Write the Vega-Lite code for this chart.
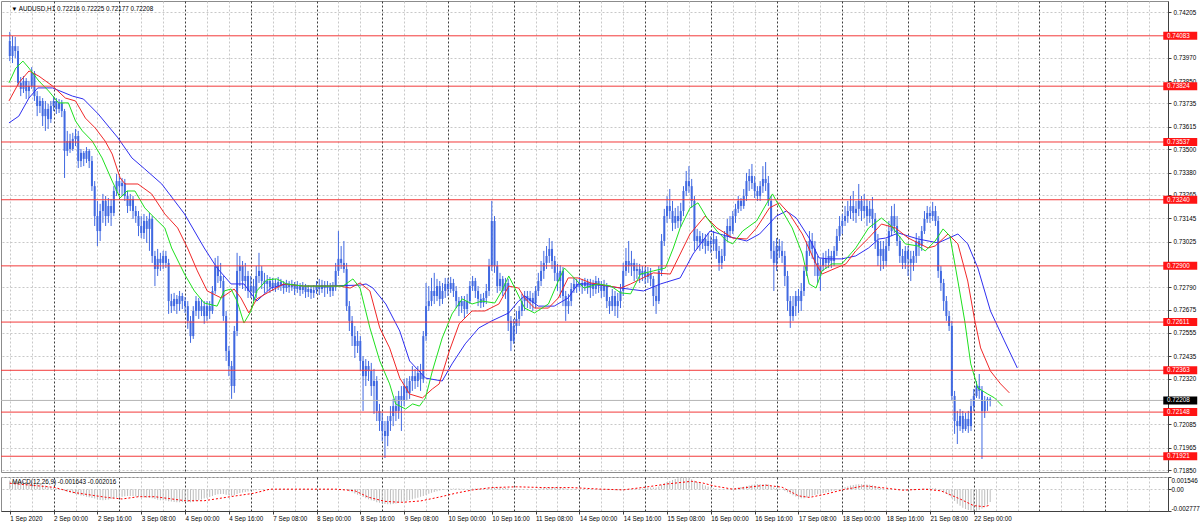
{
"$schema": "https://vega.github.io/schema/vega-lite/v6.json",
"padding": 0,
"background": "#ffffff",
"spacing": 2,
"config": {
  "view": {"stroke": "#8c8c8c", "strokeWidth": 1},
  "font": "Liberation Sans",
  "axis": {"labelFont": "Liberation Sans", "labelFontSize": 6.3, "labelColor": "#000000", "domainColor": "#404040", "tickColor": "#404040", "gridColor": "#c8c8c8", "gridDash": [2, 2], "gridWidth": 1, "labelOverlap": false, "tickCount": 500}
},
"datasets": {
"bars": [
{"i":0,"o":0.74056,"h":0.74103,"l":0.73953,"c":0.73979,"m":0.0011},
{"i":1,"o":0.73979,"h":0.74082,"l":0.73943,"c":0.74030,"m":0.00108},
{"i":2,"o":0.74030,"h":0.74077,"l":0.73969,"c":0.74005,"m":0.00105},
{"i":3,"o":0.74005,"h":0.74030,"l":0.73825,"c":0.73841,"m":0.00103},
{"i":4,"o":0.73841,"h":0.73871,"l":0.73773,"c":0.73810,"m":0.001},
{"i":5,"o":0.73810,"h":0.73876,"l":0.73789,"c":0.73851,"m":0.00096},
{"i":6,"o":0.73851,"h":0.73866,"l":0.73758,"c":0.73799,"m":0.00092},
{"i":7,"o":0.73799,"h":0.73851,"l":0.73763,"c":0.73825,"m":0.00088},
{"i":8,"o":0.73825,"h":0.73922,"l":0.73810,"c":0.73892,"m":0.00082},
{"i":9,"o":0.73892,"h":0.73902,"l":0.73748,"c":0.73773,"m":0.00076},
{"i":10,"o":0.73773,"h":0.73799,"l":0.73670,"c":0.73722,"m":0.0007},
{"i":11,"o":0.73722,"h":0.73773,"l":0.73686,"c":0.73748,"m":0.00062},
{"i":12,"o":0.73748,"h":0.73763,"l":0.73619,"c":0.73670,"m":0.00054},
{"i":13,"o":0.73670,"h":0.73748,"l":0.73594,"c":0.73707,"m":0.00045},
{"i":14,"o":0.73707,"h":0.73733,"l":0.73604,"c":0.73655,"m":0.00035},
{"i":15,"o":0.73655,"h":0.73748,"l":0.73635,"c":0.73722,"m":0.00025},
{"i":16,"o":0.73722,"h":0.73773,"l":0.73696,"c":0.73748,"m":0.00016},
{"i":17,"o":0.73748,"h":0.73763,"l":0.73681,"c":0.73707,"m":0.00008},
{"i":18,"o":0.73707,"h":0.73758,"l":0.73686,"c":0.73738,"m":0},
{"i":19,"o":0.73738,"h":0.73753,"l":0.73665,"c":0.73696,"m":-0.00008},
{"i":20,"o":0.73696,"h":0.73707,"l":0.73352,"c":0.73491,"m":-0.0002},
{"i":21,"o":0.73491,"h":0.73594,"l":0.73465,"c":0.73542,"m":-0.00032},
{"i":22,"o":0.73542,"h":0.73579,"l":0.73481,"c":0.73501,"m":-0.00042},
{"i":23,"o":0.73501,"h":0.73584,"l":0.73491,"c":0.73553,"m":-0.00052},
{"i":24,"o":0.73553,"h":0.73604,"l":0.73516,"c":0.73568,"m":-0.00062},
{"i":25,"o":0.73568,"h":0.73594,"l":0.73403,"c":0.73439,"m":-0.00072},
{"i":26,"o":0.73439,"h":0.73501,"l":0.73408,"c":0.73481,"m":-0.0008},
{"i":27,"o":0.73481,"h":0.73491,"l":0.73413,"c":0.73450,"m":-0.00088},
{"i":28,"o":0.73450,"h":0.73511,"l":0.73429,"c":0.73491,"m":-0.00096},
{"i":29,"o":0.73491,"h":0.73501,"l":0.73403,"c":0.73439,"m":-0.00104},
{"i":30,"o":0.73439,"h":0.73465,"l":0.73285,"c":0.73310,"m":-0.00112},
{"i":31,"o":0.73310,"h":0.73336,"l":0.73105,"c":0.73156,"m":-0.0012},
{"i":32,"o":0.73156,"h":0.73234,"l":0.73002,"c":0.73079,"m":-0.0013},
{"i":33,"o":0.73079,"h":0.73219,"l":0.73028,"c":0.73182,"m":-0.00138},
{"i":34,"o":0.73182,"h":0.73270,"l":0.73121,"c":0.73234,"m":-0.0014},
{"i":35,"o":0.73234,"h":0.73259,"l":0.73105,"c":0.73156,"m":-0.00138},
{"i":36,"o":0.73156,"h":0.73249,"l":0.73121,"c":0.73208,"m":-0.00132},
{"i":37,"o":0.73208,"h":0.73244,"l":0.73105,"c":0.73172,"m":-0.00125},
{"i":38,"o":0.73172,"h":0.73310,"l":0.73156,"c":0.73285,"m":-0.00118},
{"i":39,"o":0.73285,"h":0.73373,"l":0.73259,"c":0.73336,"m":-0.0011},
{"i":40,"o":0.73336,"h":0.73362,"l":0.73275,"c":0.73310,"m":-0.00102},
{"i":41,"o":0.73310,"h":0.73352,"l":0.73259,"c":0.73326,"m":-0.00095},
{"i":42,"o":0.73326,"h":0.73347,"l":0.73234,"c":0.73259,"m":-0.0009},
{"i":43,"o":0.73259,"h":0.73285,"l":0.73172,"c":0.73208,"m":-0.00088},
{"i":44,"o":0.73208,"h":0.73270,"l":0.73182,"c":0.73244,"m":-0.00086},
{"i":45,"o":0.73244,"h":0.73259,"l":0.73141,"c":0.73182,"m":-0.00088},
{"i":46,"o":0.73182,"h":0.73208,"l":0.73121,"c":0.73156,"m":-0.00092},
{"i":47,"o":0.73156,"h":0.73182,"l":0.73053,"c":0.73105,"m":-0.00096},
{"i":48,"o":0.73105,"h":0.73156,"l":0.73043,"c":0.73069,"m":-0.001},
{"i":49,"o":0.73069,"h":0.73167,"l":0.73038,"c":0.73131,"m":-0.00105},
{"i":50,"o":0.73131,"h":0.73156,"l":0.73018,"c":0.73090,"m":-0.00108},
{"i":51,"o":0.73090,"h":0.73172,"l":0.72977,"c":0.73141,"m":-0.0011},
{"i":52,"o":0.73141,"h":0.73156,"l":0.72915,"c":0.72951,"m":-0.00115},
{"i":53,"o":0.72951,"h":0.72977,"l":0.72796,"c":0.72884,"m":-0.00125},
{"i":54,"o":0.72884,"h":0.72987,"l":0.72848,"c":0.72936,"m":-0.00135},
{"i":55,"o":0.72936,"h":0.72967,"l":0.72874,"c":0.72915,"m":-0.0014},
{"i":56,"o":0.72915,"h":0.72977,"l":0.72884,"c":0.72951,"m":-0.00142},
{"i":57,"o":0.72951,"h":0.72977,"l":0.72889,"c":0.72915,"m":-0.00145},
{"i":58,"o":0.72915,"h":0.72936,"l":0.72653,"c":0.72719,"m":-0.00155},
{"i":59,"o":0.72719,"h":0.72756,"l":0.72658,"c":0.72693,"m":-0.00158},
{"i":60,"o":0.72693,"h":0.72761,"l":0.72668,"c":0.72730,"m":-0.00162},
{"i":61,"o":0.72730,"h":0.72750,"l":0.72653,"c":0.72704,"m":-0.00165},
{"i":62,"o":0.72704,"h":0.72771,"l":0.72668,"c":0.72745,"m":-0.00165},
{"i":63,"o":0.72745,"h":0.72761,"l":0.72678,"c":0.72719,"m":-0.00162},
{"i":64,"o":0.72719,"h":0.72740,"l":0.72658,"c":0.72693,"m":-0.0016},
{"i":65,"o":0.72693,"h":0.72719,"l":0.72576,"c":0.72617,"m":-0.00162},
{"i":66,"o":0.72617,"h":0.72642,"l":0.72504,"c":0.72539,"m":-0.00165},
{"i":67,"o":0.72539,"h":0.72693,"l":0.72524,"c":0.72668,"m":-0.0016},
{"i":68,"o":0.72668,"h":0.72745,"l":0.72642,"c":0.72719,"m":-0.0015},
{"i":69,"o":0.72719,"h":0.72735,"l":0.72627,"c":0.72668,"m":-0.0014},
{"i":70,"o":0.72668,"h":0.72730,"l":0.72642,"c":0.72693,"m":-0.0013},
{"i":71,"o":0.72693,"h":0.72719,"l":0.72602,"c":0.72642,"m":-0.0012},
{"i":72,"o":0.72642,"h":0.72719,"l":0.72617,"c":0.72693,"m":-0.0011},
{"i":73,"o":0.72693,"h":0.72719,"l":0.72627,"c":0.72668,"m":-0.001},
{"i":74,"o":0.72668,"h":0.72796,"l":0.72653,"c":0.72771,"m":-0.00088},
{"i":75,"o":0.72771,"h":0.72941,"l":0.72756,"c":0.72899,"m":-0.00075},
{"i":76,"o":0.72899,"h":0.72951,"l":0.72812,"c":0.72848,"m":-0.00065},
{"i":77,"o":0.72848,"h":0.72915,"l":0.72786,"c":0.72822,"m":-0.0006},
{"i":78,"o":0.72822,"h":0.72848,"l":0.72617,"c":0.72642,"m":-0.00062},
{"i":79,"o":0.72642,"h":0.72668,"l":0.72411,"c":0.72462,"m":-0.0007},
{"i":80,"o":0.72462,"h":0.72488,"l":0.72333,"c":0.72385,"m":-0.00078},
{"i":81,"o":0.72385,"h":0.72411,"l":0.72216,"c":0.72282,"m":-0.00085},
{"i":82,"o":0.72282,"h":0.72591,"l":0.72247,"c":0.72565,"m":-0.00078},
{"i":83,"o":0.72565,"h":0.72967,"l":0.72539,"c":0.72874,"m":-0.0006},
{"i":84,"o":0.72874,"h":0.72951,"l":0.72796,"c":0.72899,"m":-0.0005},
{"i":85,"o":0.72899,"h":0.72925,"l":0.72781,"c":0.72822,"m":-0.00042},
{"i":86,"o":0.72822,"h":0.72915,"l":0.72771,"c":0.72848,"m":-0.00035},
{"i":87,"o":0.72848,"h":0.72874,"l":0.72735,"c":0.72771,"m":-0.0003},
{"i":88,"o":0.72771,"h":0.72848,"l":0.72735,"c":0.72796,"m":-0.00024},
{"i":89,"o":0.72796,"h":0.72833,"l":0.72719,"c":0.72761,"m":-0.00018},
{"i":90,"o":0.72761,"h":0.72899,"l":0.72735,"c":0.72848,"m":-0.00014},
{"i":91,"o":0.72848,"h":0.72967,"l":0.72812,"c":0.72874,"m":-0.00009},
{"i":92,"o":0.72874,"h":0.72899,"l":0.72781,"c":0.72822,"m":-0.00005},
{"i":93,"o":0.72822,"h":0.72864,"l":0.72761,"c":0.72807,"m":-0.00002},
{"i":94,"o":0.72807,"h":0.72853,"l":0.72771,"c":0.72822,"m":0},
{"i":95,"o":0.72822,"h":0.72843,"l":0.72761,"c":0.72791,"m":0.00002},
{"i":96,"o":0.72791,"h":0.72838,"l":0.72771,"c":0.72812,"m":0.00003},
{"i":97,"o":0.72812,"h":0.72833,"l":0.72766,"c":0.72796,"m":0.00003},
{"i":98,"o":0.72796,"h":0.72843,"l":0.72776,"c":0.72817,"m":0.00002},
{"i":99,"o":0.72817,"h":0.72833,"l":0.72771,"c":0.72801,"m":0.00002},
{"i":100,"o":0.72801,"h":0.72822,"l":0.72756,"c":0.72786,"m":0.00001},
{"i":101,"o":0.72786,"h":0.72828,"l":0.72766,"c":0.72807,"m":0.00001},
{"i":102,"o":0.72807,"h":0.72822,"l":0.72761,"c":0.72791,"m":0},
{"i":103,"o":0.72791,"h":0.72828,"l":0.72771,"c":0.72801,"m":0},
{"i":104,"o":0.72801,"h":0.72817,"l":0.72750,"c":0.72781,"m":-0.00001},
{"i":105,"o":0.72781,"h":0.72822,"l":0.72761,"c":0.72796,"m":-0.00001},
{"i":106,"o":0.72796,"h":0.72812,"l":0.72745,"c":0.72776,"m":0},
{"i":107,"o":0.72776,"h":0.72817,"l":0.72756,"c":0.72791,"m":0.00001},
{"i":108,"o":0.72791,"h":0.72807,"l":0.72735,"c":0.72766,"m":0.00001},
{"i":109,"o":0.72766,"h":0.72801,"l":0.72740,"c":0.72781,"m":0},
{"i":110,"o":0.72781,"h":0.72796,"l":0.72730,"c":0.72761,"m":0},
{"i":111,"o":0.72761,"h":0.72801,"l":0.72735,"c":0.72776,"m":-0.00001},
{"i":112,"o":0.72776,"h":0.72822,"l":0.72756,"c":0.72796,"m":-0.00001},
{"i":113,"o":0.72796,"h":0.72833,"l":0.72750,"c":0.72781,"m":0},
{"i":114,"o":0.72781,"h":0.72828,"l":0.72761,"c":0.72801,"m":0},
{"i":115,"o":0.72801,"h":0.72822,"l":0.72740,"c":0.72786,"m":0.00001},
{"i":116,"o":0.72786,"h":0.72822,"l":0.72756,"c":0.72796,"m":0},
{"i":117,"o":0.72796,"h":0.72812,"l":0.72740,"c":0.72771,"m":0},
{"i":118,"o":0.72771,"h":0.72817,"l":0.72745,"c":0.72791,"m":-0.00002},
{"i":119,"o":0.72791,"h":0.72915,"l":0.72771,"c":0.72874,"m":-0.00005},
{"i":120,"o":0.72874,"h":0.73079,"l":0.72848,"c":0.72936,"m":0},
{"i":121,"o":0.72936,"h":0.73002,"l":0.72884,"c":0.72915,"m":0.00003},
{"i":122,"o":0.72915,"h":0.73028,"l":0.72864,"c":0.72884,"m":0.00002},
{"i":123,"o":0.72884,"h":0.72915,"l":0.72668,"c":0.72693,"m":-0.0001},
{"i":124,"o":0.72693,"h":0.72719,"l":0.72565,"c":0.72617,"m":-0.00025},
{"i":125,"o":0.72617,"h":0.72642,"l":0.72488,"c":0.72539,"m":-0.0004},
{"i":126,"o":0.72539,"h":0.72591,"l":0.72426,"c":0.72488,"m":-0.00055},
{"i":127,"o":0.72488,"h":0.72565,"l":0.72452,"c":0.72514,"m":-0.0007},
{"i":128,"o":0.72514,"h":0.72539,"l":0.72359,"c":0.72411,"m":-0.00085},
{"i":129,"o":0.72411,"h":0.72436,"l":0.72154,"c":0.72333,"m":-0.001},
{"i":130,"o":0.72333,"h":0.72421,"l":0.72282,"c":0.72385,"m":-0.00115},
{"i":131,"o":0.72385,"h":0.72411,"l":0.72308,"c":0.72359,"m":-0.00128},
{"i":132,"o":0.72359,"h":0.72401,"l":0.72231,"c":0.72282,"m":-0.0014},
{"i":133,"o":0.72282,"h":0.72370,"l":0.72139,"c":0.72308,"m":-0.0015},
{"i":134,"o":0.72308,"h":0.72333,"l":0.72102,"c":0.72154,"m":-0.00165},
{"i":135,"o":0.72154,"h":0.72190,"l":0.72051,"c":0.72102,"m":-0.00172},
{"i":136,"o":0.72102,"h":0.72144,"l":0.71999,"c":0.72051,"m":-0.00182},
{"i":137,"o":0.72051,"h":0.72102,"l":0.71912,"c":0.72025,"m":-0.00188},
{"i":138,"o":0.72025,"h":0.72128,"l":0.71973,"c":0.72102,"m":-0.00192},
{"i":139,"o":0.72102,"h":0.72179,"l":0.72051,"c":0.72128,"m":-0.00192},
{"i":140,"o":0.72128,"h":0.72216,"l":0.72076,"c":0.72179,"m":-0.00188},
{"i":141,"o":0.72179,"h":0.72231,"l":0.72102,"c":0.72154,"m":-0.00182},
{"i":142,"o":0.72154,"h":0.72257,"l":0.72113,"c":0.72231,"m":-0.00175},
{"i":143,"o":0.72231,"h":0.72282,"l":0.72051,"c":0.72205,"m":-0.00167},
{"i":144,"o":0.72205,"h":0.72318,"l":0.72179,"c":0.72282,"m":-0.00158},
{"i":145,"o":0.72282,"h":0.72323,"l":0.72205,"c":0.72247,"m":-0.00148},
{"i":146,"o":0.72247,"h":0.72333,"l":0.72216,"c":0.72308,"m":-0.00138},
{"i":147,"o":0.72308,"h":0.72385,"l":0.72257,"c":0.72333,"m":-0.00128},
{"i":148,"o":0.72333,"h":0.72370,"l":0.72267,"c":0.72308,"m":-0.00118},
{"i":149,"o":0.72308,"h":0.72385,"l":0.72277,"c":0.72349,"m":-0.00108},
{"i":150,"o":0.72349,"h":0.72396,"l":0.72257,"c":0.72318,"m":-0.00098},
{"i":151,"o":0.72318,"h":0.72565,"l":0.72298,"c":0.72539,"m":-0.00088},
{"i":152,"o":0.72539,"h":0.72812,"l":0.72514,"c":0.72693,"m":-0.00072},
{"i":153,"o":0.72693,"h":0.72796,"l":0.72668,"c":0.72719,"m":-0.00058},
{"i":154,"o":0.72719,"h":0.72838,"l":0.72693,"c":0.72771,"m":-0.00046},
{"i":155,"o":0.72771,"h":0.72864,"l":0.72704,"c":0.72745,"m":-0.00035},
{"i":156,"o":0.72745,"h":0.72833,"l":0.72719,"c":0.72796,"m":-0.00026},
{"i":157,"o":0.72796,"h":0.72822,"l":0.72693,"c":0.72730,"m":-0.00018},
{"i":158,"o":0.72730,"h":0.72812,"l":0.72704,"c":0.72771,"m":-0.00011},
{"i":159,"o":0.72771,"h":0.72838,"l":0.72735,"c":0.72807,"m":-0.00005},
{"i":160,"o":0.72807,"h":0.72838,"l":0.72745,"c":0.72781,"m":0},
{"i":161,"o":0.72781,"h":0.72843,"l":0.72761,"c":0.72812,"m":0.00004},
{"i":162,"o":0.72812,"h":0.72833,"l":0.72740,"c":0.72771,"m":0.00007},
{"i":163,"o":0.72771,"h":0.72796,"l":0.72683,"c":0.72719,"m":0.00008},
{"i":164,"o":0.72719,"h":0.72740,"l":0.72642,"c":0.72693,"m":0.00007},
{"i":165,"o":0.72693,"h":0.72745,"l":0.72658,"c":0.72719,"m":0.00006},
{"i":166,"o":0.72719,"h":0.72745,"l":0.72632,"c":0.72678,"m":0.00004},
{"i":167,"o":0.72678,"h":0.72756,"l":0.72653,"c":0.72719,"m":0.00003},
{"i":168,"o":0.72719,"h":0.72822,"l":0.72704,"c":0.72796,"m":0.00005},
{"i":169,"o":0.72796,"h":0.72848,"l":0.72771,"c":0.72822,"m":0.00007},
{"i":170,"o":0.72822,"h":0.72838,"l":0.72735,"c":0.72771,"m":0.00008},
{"i":171,"o":0.72771,"h":0.72796,"l":0.72693,"c":0.72730,"m":0.00007},
{"i":172,"o":0.72730,"h":0.72756,"l":0.72683,"c":0.72709,"m":0.00006},
{"i":173,"o":0.72709,"h":0.72761,"l":0.72688,"c":0.72735,"m":0.00005},
{"i":174,"o":0.72735,"h":0.72807,"l":0.72704,"c":0.72771,"m":0.00005},
{"i":175,"o":0.72771,"h":0.72936,"l":0.72745,"c":0.72899,"m":0.00009},
{"i":176,"o":0.72899,"h":0.73234,"l":0.72874,"c":0.73131,"m":0.00018},
{"i":177,"o":0.73131,"h":0.73156,"l":0.72864,"c":0.72899,"m":0.00022},
{"i":178,"o":0.72899,"h":0.72925,"l":0.72761,"c":0.72796,"m":0.0002},
{"i":179,"o":0.72796,"h":0.72864,"l":0.72771,"c":0.72833,"m":0.00018},
{"i":180,"o":0.72833,"h":0.72848,"l":0.72745,"c":0.72771,"m":0.00016},
{"i":181,"o":0.72771,"h":0.72838,"l":0.72730,"c":0.72812,"m":0.00014},
{"i":182,"o":0.72812,"h":0.72833,"l":0.72565,"c":0.72617,"m":0.00008},
{"i":183,"o":0.72617,"h":0.72642,"l":0.72462,"c":0.72514,"m":0},
{"i":184,"o":0.72514,"h":0.72627,"l":0.72499,"c":0.72591,"m":-0.00004},
{"i":185,"o":0.72591,"h":0.72668,"l":0.72550,"c":0.72627,"m":-0.00006},
{"i":186,"o":0.72627,"h":0.72693,"l":0.72591,"c":0.72668,"m":-0.00006},
{"i":187,"o":0.72668,"h":0.72756,"l":0.72642,"c":0.72719,"m":-0.00004},
{"i":188,"o":0.72719,"h":0.72771,"l":0.72668,"c":0.72745,"m":-0.00002},
{"i":189,"o":0.72745,"h":0.72771,"l":0.72683,"c":0.72719,"m":-0.00001},
{"i":190,"o":0.72719,"h":0.72771,"l":0.72678,"c":0.72735,"m":0},
{"i":191,"o":0.72735,"h":0.72761,"l":0.72668,"c":0.72709,"m":0.00001},
{"i":192,"o":0.72709,"h":0.72796,"l":0.72683,"c":0.72771,"m":0.00003},
{"i":193,"o":0.72771,"h":0.72864,"l":0.72745,"c":0.72822,"m":0.00006},
{"i":194,"o":0.72822,"h":0.72925,"l":0.72796,"c":0.72874,"m":0.0001},
{"i":195,"o":0.72874,"h":0.72977,"l":0.72833,"c":0.72915,"m":0.00014},
{"i":196,"o":0.72915,"h":0.73002,"l":0.72884,"c":0.72951,"m":0.00018},
{"i":197,"o":0.72951,"h":0.73043,"l":0.72915,"c":0.72987,"m":0.00022},
{"i":198,"o":0.72987,"h":0.73028,"l":0.72884,"c":0.72925,"m":0.00024},
{"i":199,"o":0.72925,"h":0.72951,"l":0.72822,"c":0.72864,"m":0.00023},
{"i":200,"o":0.72864,"h":0.72910,"l":0.72771,"c":0.72822,"m":0.00021},
{"i":201,"o":0.72822,"h":0.72904,"l":0.72735,"c":0.72874,"m":0.0002},
{"i":202,"o":0.72874,"h":0.72894,"l":0.72693,"c":0.72745,"m":0.00015},
{"i":203,"o":0.72745,"h":0.72771,"l":0.72617,"c":0.72693,"m":0.00009},
{"i":204,"o":0.72693,"h":0.72756,"l":0.72653,"c":0.72719,"m":0.00005},
{"i":205,"o":0.72719,"h":0.72812,"l":0.72693,"c":0.72781,"m":0.00003},
{"i":206,"o":0.72781,"h":0.72838,"l":0.72761,"c":0.72807,"m":0.00002},
{"i":207,"o":0.72807,"h":0.72833,"l":0.72761,"c":0.72791,"m":0.00001},
{"i":208,"o":0.72791,"h":0.72843,"l":0.72771,"c":0.72812,"m":0},
{"i":209,"o":0.72812,"h":0.72833,"l":0.72756,"c":0.72796,"m":0},
{"i":210,"o":0.72796,"h":0.72838,"l":0.72771,"c":0.72817,"m":-0.00001},
{"i":211,"o":0.72817,"h":0.72833,"l":0.72756,"c":0.72786,"m":-0.00001},
{"i":212,"o":0.72786,"h":0.72833,"l":0.72735,"c":0.72807,"m":-0.00002},
{"i":213,"o":0.72807,"h":0.72828,"l":0.72745,"c":0.72781,"m":-0.00002},
{"i":214,"o":0.72781,"h":0.72848,"l":0.72756,"c":0.72822,"m":-0.00002},
{"i":215,"o":0.72822,"h":0.72838,"l":0.72761,"c":0.72796,"m":-0.00003},
{"i":216,"o":0.72796,"h":0.72822,"l":0.72735,"c":0.72771,"m":-0.00003},
{"i":217,"o":0.72771,"h":0.72828,"l":0.72740,"c":0.72801,"m":-0.00004},
{"i":218,"o":0.72801,"h":0.72812,"l":0.72683,"c":0.72719,"m":-0.00007},
{"i":219,"o":0.72719,"h":0.72740,"l":0.72653,"c":0.72693,"m":-0.0001},
{"i":220,"o":0.72693,"h":0.72781,"l":0.72668,"c":0.72745,"m":-0.00012},
{"i":221,"o":0.72745,"h":0.72771,"l":0.72642,"c":0.72693,"m":-0.00014},
{"i":222,"o":0.72693,"h":0.72761,"l":0.72632,"c":0.72719,"m":-0.00015},
{"i":223,"o":0.72719,"h":0.72807,"l":0.72683,"c":0.72771,"m":-0.00015},
{"i":224,"o":0.72771,"h":0.72915,"l":0.72745,"c":0.72874,"m":-0.00012},
{"i":225,"o":0.72874,"h":0.72992,"l":0.72848,"c":0.72925,"m":-0.00008},
{"i":226,"o":0.72925,"h":0.73028,"l":0.72864,"c":0.72899,"m":-0.00004},
{"i":227,"o":0.72899,"h":0.72977,"l":0.72848,"c":0.72915,"m":-0.00001},
{"i":228,"o":0.72915,"h":0.72936,"l":0.72822,"c":0.72874,"m":0.00002},
{"i":229,"o":0.72874,"h":0.72915,"l":0.72833,"c":0.72884,"m":0.00004},
{"i":230,"o":0.72884,"h":0.72910,"l":0.72812,"c":0.72853,"m":0.00006},
{"i":231,"o":0.72853,"h":0.72899,"l":0.72822,"c":0.72874,"m":0.00008},
{"i":232,"o":0.72874,"h":0.72894,"l":0.72807,"c":0.72843,"m":0.00012},
{"i":233,"o":0.72843,"h":0.72894,"l":0.72812,"c":0.72864,"m":0.00016},
{"i":234,"o":0.72864,"h":0.72889,"l":0.72796,"c":0.72833,"m":0.0002},
{"i":235,"o":0.72833,"h":0.72848,"l":0.72693,"c":0.72745,"m":0.0002},
{"i":236,"o":0.72745,"h":0.72796,"l":0.72653,"c":0.72719,"m":0.00022},
{"i":237,"o":0.72719,"h":0.72899,"l":0.72704,"c":0.72874,"m":0.00035},
{"i":238,"o":0.72874,"h":0.73064,"l":0.72848,"c":0.73028,"m":0.00055},
{"i":239,"o":0.73028,"h":0.73193,"l":0.73002,"c":0.73156,"m":0.00075},
{"i":240,"o":0.73156,"h":0.73259,"l":0.73121,"c":0.73208,"m":0.00092},
{"i":241,"o":0.73208,"h":0.73295,"l":0.73141,"c":0.73182,"m":0.00105},
{"i":242,"o":0.73182,"h":0.73234,"l":0.73079,"c":0.73121,"m":0.00118},
{"i":243,"o":0.73121,"h":0.73198,"l":0.73090,"c":0.73156,"m":0.00128},
{"i":244,"o":0.73156,"h":0.73208,"l":0.73095,"c":0.73131,"m":0.00138},
{"i":245,"o":0.73131,"h":0.73224,"l":0.73100,"c":0.73182,"m":0.00148},
{"i":246,"o":0.73182,"h":0.73310,"l":0.73156,"c":0.73285,"m":0.001546},
{"i":247,"o":0.73285,"h":0.73388,"l":0.73259,"c":0.73336,"m":0.0015},
{"i":248,"o":0.73336,"h":0.73413,"l":0.73275,"c":0.73310,"m":0.0014},
{"i":249,"o":0.73310,"h":0.73347,"l":0.73198,"c":0.73234,"m":0.00125},
{"i":250,"o":0.73234,"h":0.73259,"l":0.72977,"c":0.73028,"m":0.00108},
{"i":251,"o":0.73028,"h":0.73090,"l":0.72987,"c":0.73053,"m":0.00092},
{"i":252,"o":0.73053,"h":0.73079,"l":0.72977,"c":0.73018,"m":0.00078},
{"i":253,"o":0.73018,"h":0.73069,"l":0.72987,"c":0.73038,"m":0.00062},
{"i":254,"o":0.73038,"h":0.73064,"l":0.72962,"c":0.73002,"m":0.00048},
{"i":255,"o":0.73002,"h":0.73069,"l":0.72977,"c":0.73028,"m":0.00035},
{"i":256,"o":0.73028,"h":0.73053,"l":0.72967,"c":0.73013,"m":0.00024},
{"i":257,"o":0.73013,"h":0.73079,"l":0.72977,"c":0.73038,"m":0.00014},
{"i":258,"o":0.73038,"h":0.73053,"l":0.72936,"c":0.72977,"m":0.00006},
{"i":259,"o":0.72977,"h":0.73002,"l":0.72874,"c":0.72915,"m":0},
{"i":260,"o":0.72915,"h":0.72987,"l":0.72884,"c":0.72951,"m":-0.00004},
{"i":261,"o":0.72951,"h":0.73079,"l":0.72925,"c":0.73053,"m":-0.00005},
{"i":262,"o":0.73053,"h":0.73141,"l":0.73028,"c":0.73105,"m":-0.00002},
{"i":263,"o":0.73105,"h":0.73156,"l":0.73043,"c":0.73079,"m":0.00002},
{"i":264,"o":0.73079,"h":0.73182,"l":0.73064,"c":0.73156,"m":0.00008},
{"i":265,"o":0.73156,"h":0.73219,"l":0.73121,"c":0.73193,"m":0.00014},
{"i":266,"o":0.73193,"h":0.73259,"l":0.73172,"c":0.73234,"m":0.0002},
{"i":267,"o":0.73234,"h":0.73249,"l":0.73182,"c":0.73208,"m":0.00026},
{"i":268,"o":0.73208,"h":0.73295,"l":0.73193,"c":0.73259,"m":0.00032},
{"i":269,"o":0.73259,"h":0.73378,"l":0.73234,"c":0.73336,"m":0.0004},
{"i":270,"o":0.73336,"h":0.73398,"l":0.73285,"c":0.73362,"m":0.00048},
{"i":271,"o":0.73362,"h":0.73424,"l":0.73295,"c":0.73326,"m":0.00055},
{"i":272,"o":0.73326,"h":0.73362,"l":0.73249,"c":0.73285,"m":0.0006},
{"i":273,"o":0.73285,"h":0.73310,"l":0.73234,"c":0.73259,"m":0.00062},
{"i":274,"o":0.73259,"h":0.73336,"l":0.73234,"c":0.73310,"m":0.00062},
{"i":275,"o":0.73310,"h":0.73413,"l":0.73275,"c":0.73347,"m":0.00062},
{"i":276,"o":0.73347,"h":0.73434,"l":0.73285,"c":0.73326,"m":0.00063},
{"i":277,"o":0.73326,"h":0.73362,"l":0.73208,"c":0.73234,"m":0.00058},
{"i":278,"o":0.73234,"h":0.73259,"l":0.72936,"c":0.72977,"m":0.0004},
{"i":279,"o":0.72977,"h":0.73028,"l":0.72771,"c":0.72915,"m":0.00025},
{"i":280,"o":0.72915,"h":0.73043,"l":0.72874,"c":0.73002,"m":0.00015},
{"i":281,"o":0.73002,"h":0.73038,"l":0.72941,"c":0.72977,"m":0.00005},
{"i":282,"o":0.72977,"h":0.73028,"l":0.72915,"c":0.72951,"m":-0.00005},
{"i":283,"o":0.72951,"h":0.72977,"l":0.72796,"c":0.72848,"m":-0.0002},
{"i":284,"o":0.72848,"h":0.72874,"l":0.72668,"c":0.72719,"m":-0.0004},
{"i":285,"o":0.72719,"h":0.72745,"l":0.72581,"c":0.72642,"m":-0.0006},
{"i":286,"o":0.72642,"h":0.72745,"l":0.72617,"c":0.72693,"m":-0.00078},
{"i":287,"o":0.72693,"h":0.72771,"l":0.72642,"c":0.72745,"m":-0.00092},
{"i":288,"o":0.72745,"h":0.72781,"l":0.72658,"c":0.72719,"m":-0.00105},
{"i":289,"o":0.72719,"h":0.72812,"l":0.72668,"c":0.72771,"m":-0.00115},
{"i":290,"o":0.72771,"h":0.72899,"l":0.72745,"c":0.72874,"m":-0.00115},
{"i":291,"o":0.72874,"h":0.73028,"l":0.72848,"c":0.72977,"m":-0.00105},
{"i":292,"o":0.72977,"h":0.73079,"l":0.72951,"c":0.73028,"m":-0.00095},
{"i":293,"o":0.73028,"h":0.73069,"l":0.72936,"c":0.72987,"m":-0.00085},
{"i":294,"o":0.72987,"h":0.73028,"l":0.72848,"c":0.72915,"m":-0.00075},
{"i":295,"o":0.72915,"h":0.72951,"l":0.72812,"c":0.72848,"m":-0.00065},
{"i":296,"o":0.72848,"h":0.72936,"l":0.72771,"c":0.72899,"m":-0.00058},
{"i":297,"o":0.72899,"h":0.72967,"l":0.72874,"c":0.72936,"m":-0.0005},
{"i":298,"o":0.72936,"h":0.72977,"l":0.72884,"c":0.72915,"m":-0.00042},
{"i":299,"o":0.72915,"h":0.72987,"l":0.72889,"c":0.72951,"m":-0.00035},
{"i":300,"o":0.72951,"h":0.72977,"l":0.72889,"c":0.72925,"m":-0.00028},
{"i":301,"o":0.72925,"h":0.73002,"l":0.72899,"c":0.72977,"m":-0.0002},
{"i":302,"o":0.72977,"h":0.73090,"l":0.72951,"c":0.73053,"m":-0.0001},
{"i":303,"o":0.73053,"h":0.73156,"l":0.73028,"c":0.73105,"m":0.00002},
{"i":304,"o":0.73105,"h":0.73167,"l":0.73064,"c":0.73131,"m":0.00014},
{"i":305,"o":0.73131,"h":0.73208,"l":0.73105,"c":0.73156,"m":0.00025},
{"i":306,"o":0.73156,"h":0.73234,"l":0.73121,"c":0.73182,"m":0.00035},
{"i":307,"o":0.73182,"h":0.73259,"l":0.73141,"c":0.73208,"m":0.00045},
{"i":308,"o":0.73208,"h":0.73285,"l":0.73131,"c":0.73172,"m":0.00052},
{"i":309,"o":0.73172,"h":0.73234,"l":0.73121,"c":0.73193,"m":0.00058},
{"i":310,"o":0.73193,"h":0.73321,"l":0.73156,"c":0.73234,"m":0.00062},
{"i":311,"o":0.73234,"h":0.73259,"l":0.73131,"c":0.73182,"m":0.00062},
{"i":312,"o":0.73182,"h":0.73270,"l":0.73146,"c":0.73208,"m":0.0006},
{"i":313,"o":0.73208,"h":0.73244,"l":0.73105,"c":0.73156,"m":0.00058},
{"i":314,"o":0.73156,"h":0.73234,"l":0.73121,"c":0.73193,"m":0.00055},
{"i":315,"o":0.73193,"h":0.73254,"l":0.73095,"c":0.73141,"m":0.0005},
{"i":316,"o":0.73141,"h":0.73172,"l":0.72987,"c":0.73028,"m":0.0004},
{"i":317,"o":0.73028,"h":0.73064,"l":0.72899,"c":0.72951,"m":0.00028},
{"i":318,"o":0.72951,"h":0.73028,"l":0.72874,"c":0.72987,"m":0.00015},
{"i":319,"o":0.72987,"h":0.73028,"l":0.72884,"c":0.72925,"m":0.00005},
{"i":320,"o":0.72925,"h":0.73038,"l":0.72899,"c":0.73002,"m":-0.00003},
{"i":321,"o":0.73002,"h":0.73131,"l":0.72977,"c":0.73079,"m":-0.00005},
{"i":322,"o":0.73079,"h":0.73208,"l":0.73053,"c":0.73156,"m":-0.00002},
{"i":323,"o":0.73156,"h":0.73219,"l":0.73069,"c":0.73105,"m":0},
{"i":324,"o":0.73105,"h":0.73156,"l":0.73002,"c":0.73028,"m":-0.00004},
{"i":325,"o":0.73028,"h":0.73053,"l":0.72915,"c":0.72951,"m":-0.0001},
{"i":326,"o":0.72951,"h":0.72987,"l":0.72884,"c":0.72915,"m":-0.00014},
{"i":327,"o":0.72915,"h":0.73002,"l":0.72884,"c":0.72977,"m":-0.00015},
{"i":328,"o":0.72977,"h":0.73002,"l":0.72848,"c":0.72936,"m":-0.00014},
{"i":329,"o":0.72936,"h":0.72977,"l":0.72822,"c":0.72915,"m":-0.00012},
{"i":330,"o":0.72915,"h":0.72977,"l":0.72874,"c":0.72951,"m":-0.0001},
{"i":331,"o":0.72951,"h":0.73069,"l":0.72915,"c":0.73028,"m":-0.00005},
{"i":332,"o":0.73028,"h":0.73053,"l":0.72951,"c":0.73002,"m":-0.00002},
{"i":333,"o":0.73002,"h":0.73105,"l":0.72977,"c":0.73079,"m":0.00002},
{"i":334,"o":0.73079,"h":0.73182,"l":0.73064,"c":0.73141,"m":0.00006},
{"i":335,"o":0.73141,"h":0.73208,"l":0.73121,"c":0.73172,"m":0.0001},
{"i":336,"o":0.73172,"h":0.73203,"l":0.73121,"c":0.73156,"m":0.00012},
{"i":337,"o":0.73156,"h":0.73229,"l":0.73131,"c":0.73182,"m":0.00012},
{"i":338,"o":0.73182,"h":0.73208,"l":0.73105,"c":0.73131,"m":0.0001},
{"i":339,"o":0.73131,"h":0.73156,"l":0.72838,"c":0.72874,"m":0},
{"i":340,"o":0.72874,"h":0.72899,"l":0.72771,"c":0.72812,"m":-0.00015},
{"i":341,"o":0.72812,"h":0.72833,"l":0.72668,"c":0.72719,"m":-0.00035},
{"i":342,"o":0.72719,"h":0.72745,"l":0.72617,"c":0.72642,"m":-0.00055},
{"i":343,"o":0.72642,"h":0.72668,"l":0.72565,"c":0.72591,"m":-0.0008},
{"i":344,"o":0.72591,"h":0.72617,"l":0.72205,"c":0.72231,"m":-0.00115},
{"i":345,"o":0.72231,"h":0.72257,"l":0.72036,"c":0.72102,"m":-0.0015},
{"i":346,"o":0.72102,"h":0.72154,"l":0.71984,"c":0.72076,"m":-0.00185},
{"i":347,"o":0.72076,"h":0.72164,"l":0.72051,"c":0.72128,"m":-0.00212},
{"i":348,"o":0.72128,"h":0.72154,"l":0.72041,"c":0.72061,"m":-0.00235},
{"i":349,"o":0.72061,"h":0.72144,"l":0.72051,"c":0.72113,"m":-0.00252},
{"i":350,"o":0.72113,"h":0.72154,"l":0.72041,"c":0.72076,"m":-0.00265},
{"i":351,"o":0.72076,"h":0.72216,"l":0.72051,"c":0.72179,"m":-0.00272},
{"i":352,"o":0.72179,"h":0.72267,"l":0.72154,"c":0.72231,"m":-0.002777},
{"i":353,"o":0.72231,"h":0.72308,"l":0.72221,"c":0.72282,"m":-0.00275},
{"i":354,"o":0.72282,"h":0.72344,"l":0.72216,"c":0.72257,"m":-0.00262},
{"i":355,"o":0.72257,"h":0.72282,"l":0.71907,"c":0.72154,"m":-0.00245},
{"i":356,"o":0.72154,"h":0.72231,"l":0.72118,"c":0.72205,"m":-0.00222},
{"i":357,"o":0.72205,"h":0.72226,"l":0.72154,"c":0.72216,"m":-0.00195},
{"i":358,"o":0.72216,"h":0.72225,"l":0.72177,"c":0.72208,"m":-0.001643}
],
"jaw": [
{"b":-0.3,"p":0.73635},{"b":3.3,"p":0.73670},{"b":7.0,"p":0.73763},{"b":10.2,"p":0.73815},{"b":15.6,"p":0.73815},{"b":22.9,"p":0.73773},{"b":26.9,"p":0.73758},{"b":32.3,"p":0.73681},{"b":39.5,"p":0.73558},{"b":44.6,"p":0.73455},{"b":49.3,"p":0.73398},{"b":55.5,"p":0.73321},{"b":63.8,"p":0.73167},{"b":71.0,"p":0.72992},{"b":75.7,"p":0.72889},{"b":80.8,"p":0.72807},{"b":85.5,"p":0.72807},{"b":90.2,"p":0.72719},{"b":95.3,"p":0.72786},{"b":101.1,"p":0.72807},{"b":107.2,"p":0.72796},{"b":114.5,"p":0.72796},{"b":127.9,"p":0.72801},{"b":130.1,"p":0.72807},{"b":132.6,"p":0.72786},{"b":137.3,"p":0.72704},{"b":142.4,"p":0.72565},{"b":146.0,"p":0.72411},{"b":151.8,"p":0.72323},{"b":157.9,"p":0.72308},{"b":161.5,"p":0.72396},{"b":166.3,"p":0.72499},{"b":171.3,"p":0.72581},{"b":176.0,"p":0.72617},{"b":182.2,"p":0.72658},{"b":185.8,"p":0.72719},{"b":188.0,"p":0.72745},{"b":193.0,"p":0.72693},{"b":198.8,"p":0.72693},{"b":203.9,"p":0.72735},{"b":207.5,"p":0.72807},{"b":212.2,"p":0.72807},{"b":223.1,"p":0.72786},{"b":231.4,"p":0.72771},{"b":237.6,"p":0.72807},{"b":244.8,"p":0.72838},{"b":249.5,"p":0.72961},{"b":255.7,"p":0.73079},{"b":261.8,"p":0.73053},{"b":269.1,"p":0.73028},{"b":273.8,"p":0.73064},{"b":279.9,"p":0.73156},{"b":283.6,"p":0.73182},{"b":287.2,"p":0.73146},{"b":291.9,"p":0.73043},{"b":295.5,"p":0.72941},{"b":299.1,"p":0.72936},{"b":303.8,"p":0.72936},{"b":308.9,"p":0.72951},{"b":313.6,"p":0.72992},{"b":317.3,"p":0.73038},{"b":319.8,"p":0.73043},{"b":324.5,"p":0.73069},{"b":331.7,"p":0.73038},{"b":339.0,"p":0.73018},{"b":346.2,"p":0.73064},{"b":349.8,"p":0.73013},{"b":353.5,"p":0.72889},{"b":358.1,"p":0.72668},{"b":363.2,"p":0.72514},{"b":367.9,"p":0.72375}
],
"teeth": [
{"b":-0.3,"p":0.73748},{"b":3.3,"p":0.73841},{"b":7.0,"p":0.73902},{"b":10.6,"p":0.73876},{"b":15.6,"p":0.73825},{"b":20.3,"p":0.73763},{"b":24.0,"p":0.73748},{"b":27.6,"p":0.73660},{"b":31.2,"p":0.73609},{"b":34.8,"p":0.73542},{"b":37.4,"p":0.73475},{"b":40.3,"p":0.73352},{"b":42.1,"p":0.73321},{"b":46.8,"p":0.73321},{"b":51.8,"p":0.73270},{"b":56.6,"p":0.73167},{"b":61.3,"p":0.73095},{"b":64.9,"p":0.72992},{"b":68.5,"p":0.72874},{"b":72.1,"p":0.72771},{"b":77.2,"p":0.72735},{"b":81.9,"p":0.72781},{"b":84.4,"p":0.72735},{"b":87.3,"p":0.72658},{"b":90.2,"p":0.72730},{"b":95.3,"p":0.72771},{"b":100.0,"p":0.72807},{"b":107.2,"p":0.72796},{"b":120.6,"p":0.72796},{"b":124.3,"p":0.72786},{"b":127.9,"p":0.72812},{"b":131.5,"p":0.72771},{"b":135.1,"p":0.72581},{"b":138.7,"p":0.72478},{"b":142.4,"p":0.72323},{"b":146.0,"p":0.72241},{"b":150.7,"p":0.72221},{"b":154.3,"p":0.72267},{"b":156.8,"p":0.72293},{"b":160.5,"p":0.72462},{"b":164.1,"p":0.72602},{"b":168.8,"p":0.72668},{"b":173.5,"p":0.72668},{"b":178.6,"p":0.72704},{"b":182.2,"p":0.72796},{"b":185.8,"p":0.72786},{"b":188.0,"p":0.72735},{"b":191.6,"p":0.72683},{"b":196.7,"p":0.72683},{"b":200.3,"p":0.72735},{"b":203.9,"p":0.72838},{"b":207.5,"p":0.72838},{"b":212.2,"p":0.72812},{"b":223.1,"p":0.72786},{"b":226.7,"p":0.72807},{"b":235.0,"p":0.72864},{"b":241.2,"p":0.72858},{"b":244.8,"p":0.72961},{"b":248.4,"p":0.73064},{"b":253.9,"p":0.73156},{"b":258.2,"p":0.73095},{"b":264.0,"p":0.73043},{"b":269.1,"p":0.73038},{"b":272.7,"p":0.73095},{"b":277.4,"p":0.73198},{"b":281.0,"p":0.73224},{"b":284.7,"p":0.73167},{"b":289.4,"p":0.73064},{"b":294.4,"p":0.72910},{"b":296.6,"p":0.72858},{"b":301.7,"p":0.72889},{"b":305.3,"p":0.72910},{"b":308.9,"p":0.72977},{"b":313.6,"p":0.73043},{"b":318.3,"p":0.73115},{"b":323.4,"p":0.73095},{"b":328.1,"p":0.73043},{"b":335.3,"p":0.72992},{"b":337.9,"p":0.73002},{"b":342.6,"p":0.73064},{"b":346.2,"p":0.73013},{"b":349.8,"p":0.72822},{"b":352.4,"p":0.72617},{"b":354.5,"p":0.72478},{"b":358.1,"p":0.72359},{"b":361.8,"p":0.72293},{"b":365.0,"p":0.72247}
],
"lips": [
{"b":-0.3,"p":0.73841},{"b":2.2,"p":0.73917},{"b":4.8,"p":0.73953},{"b":7.0,"p":0.73917},{"b":10.6,"p":0.73851},{"b":14.2,"p":0.73799},{"b":17.8,"p":0.73738},{"b":21.4,"p":0.73738},{"b":24.0,"p":0.73645},{"b":26.5,"p":0.73594},{"b":30.1,"p":0.73542},{"b":33.7,"p":0.73455},{"b":37.4,"p":0.73336},{"b":40.3,"p":0.73249},{"b":42.8,"p":0.73285},{"b":45.7,"p":0.73285},{"b":49.3,"p":0.73198},{"b":52.9,"p":0.73146},{"b":56.6,"p":0.73095},{"b":59.1,"p":0.72992},{"b":63.8,"p":0.72858},{"b":67.4,"p":0.72771},{"b":71.0,"p":0.72709},{"b":75.7,"p":0.72693},{"b":78.3,"p":0.72771},{"b":80.8,"p":0.72781},{"b":83.0,"p":0.72719},{"b":85.5,"p":0.72606},{"b":88.1,"p":0.72668},{"b":90.2,"p":0.72771},{"b":93.8,"p":0.72828},{"b":97.5,"p":0.72833},{"b":101.1,"p":0.72807},{"b":107.2,"p":0.72796},{"b":121.7,"p":0.72796},{"b":125.3,"p":0.72833},{"b":127.9,"p":0.72786},{"b":131.5,"p":0.72581},{"b":135.1,"p":0.72411},{"b":138.7,"p":0.72293},{"b":140.9,"p":0.72190},{"b":144.5,"p":0.72164},{"b":147.1,"p":0.72190},{"b":149.6,"p":0.72179},{"b":151.8,"p":0.72221},{"b":154.3,"p":0.72359},{"b":157.9,"p":0.72529},{"b":161.5,"p":0.72653},{"b":165.2,"p":0.72730},{"b":168.8,"p":0.72704},{"b":172.4,"p":0.72719},{"b":177.1,"p":0.72709},{"b":179.7,"p":0.72771},{"b":182.2,"p":0.72848},{"b":184.4,"p":0.72786},{"b":188.0,"p":0.72683},{"b":191.6,"p":0.72658},{"b":196.7,"p":0.72704},{"b":200.3,"p":0.72822},{"b":202.5,"p":0.72889},{"b":206.1,"p":0.72838},{"b":209.7,"p":0.72786},{"b":214.8,"p":0.72807},{"b":219.5,"p":0.72796},{"b":223.1,"p":0.72761},{"b":226.7,"p":0.72756},{"b":230.3,"p":0.72858},{"b":235.0,"p":0.72874},{"b":239.4,"p":0.72889},{"b":242.3,"p":0.72992},{"b":244.8,"p":0.73095},{"b":248.4,"p":0.73198},{"b":251.3,"p":0.73224},{"b":254.6,"p":0.73146},{"b":258.2,"p":0.73079},{"b":261.8,"p":0.73028},{"b":264.0,"p":0.73013},{"b":267.6,"p":0.73079},{"b":272.7,"p":0.73131},{"b":276.3,"p":0.73219},{"b":278.5,"p":0.73270},{"b":279.9,"p":0.73234},{"b":282.1,"p":0.73182},{"b":285.7,"p":0.73095},{"b":289.4,"p":0.72961},{"b":291.9,"p":0.72807},{"b":294.4,"p":0.72786},{"b":296.6,"p":0.72874},{"b":300.2,"p":0.72910},{"b":303.8,"p":0.72910},{"b":308.9,"p":0.72992},{"b":313.6,"p":0.73095},{"b":318.3,"p":0.73146},{"b":321.9,"p":0.73105},{"b":327.0,"p":0.73013},{"b":331.7,"p":0.73002},{"b":334.3,"p":0.72977},{"b":337.9,"p":0.73028},{"b":340.8,"p":0.73090},{"b":343.3,"p":0.73053},{"b":346.2,"p":0.72822},{"b":348.7,"p":0.72617},{"b":350.9,"p":0.72396},{"b":353.5,"p":0.72272},{"b":357.1,"p":0.72241},{"b":359.6,"p":0.72221},{"b":362.5,"p":0.72179}
],
"sig": [
{"b":0,"v":0.00075},{"b":16,"v":0.00024},{"b":23,"v":-0.0004},{"b":35,"v":-0.00103},{"b":41,"v":-0.00125},{"b":47,"v":-0.00096},{"b":53,"v":-0.00096},{"b":64,"v":-0.00147},{"b":71,"v":-0.00147},{"b":83,"v":-0.00083},{"b":89,"v":-0.00053},{"b":95,"v":0},{"b":107,"v":0},{"b":119,"v":0},{"b":126,"v":-0.0002},{"b":131,"v":-0.00103},{"b":137,"v":-0.00155},{"b":143,"v":-0.00168},{"b":150,"v":-0.0015},{"b":157,"v":-0.001},{"b":163,"v":-0.0005},{"b":169,"v":-0.0001},{"b":176,"v":0.0002},{"b":185,"v":0.0003},{"b":195,"v":0.0002},{"b":205,"v":0.0002},{"b":216,"v":0},{"b":224,"v":-0.00009},{"b":232,"v":0.00025},{"b":240,"v":0.00066},{"b":249,"v":0.001},{"b":253,"v":0.00079},{"b":257,"v":0.00041},{"b":264,"v":0},{"b":271,"v":0.0003},{"b":276,"v":0.00051},{"b":282,"v":0.00025},{"b":288,"v":-0.00085},{"b":292,"v":-0.00105},{"b":298,"v":-0.00063},{"b":304,"v":-0.00009},{"b":312,"v":0.00042},{"b":318,"v":0.00021},{"b":326,"v":-0.00013},{"b":334,"v":0},{"b":340,"v":-0.00021},{"b":347,"v":-0.00125},{"b":352,"v":-0.0021},{"b":356,"v":-0.00223},{"b":358,"v":-0.002016}
],
"lv": [
{"p":0.74083},{"p":0.73824},{"p":0.73537},{"p":0.73240},{"p":0.72900},{"p":0.72611},{"p":0.72363},{"p":0.72148},{"p":0.71921}
],
"bid": [{"p":0.72208}]
},
"vconcat": [
{
  "width": 1167,
  "height": 471,
  "layer": [
    {
      "data": {"name": "bars"},
      "mark": {"type": "rule", "color": "#4169e1", "strokeWidth": 1},
      "encoding": {
        "x": {"field": "i", "type": "quantitative", "title": null,
              "scale": {"domain": [-1.38, 421.1], "nice": false, "zero": false},
              "axis": {"values": [0,8,16,24,32,40,48,56,64,72,80,88,96,104,112,120,128,136,144,152,160,168,176,184,192,200,208,216,224,232,240,248,256,264,272,280,288,296,304,312,320,328,336,344,352,360,368,376,384,392,400,408,416],
                       "tickCount": 500,
                       "labels": false, "ticks": false, "domain": false, "grid": true,
                       "gridColor": {"condition": {"test": "(datum.value - 16) % 24 == 0", "value": "#3c3c3c"}, "value": "#c8c8c8"}}},
        "y": {"field": "l", "type": "quantitative", "title": null,
              "scale": {"domain": [0.7184, 0.74262], "nice": false, "zero": false},
              "axis": {"orient": "right", "values": [0.74205,0.7397,0.7385,0.73735,0.73615,0.735,0.7338,0.73265,0.73145,0.73025,0.7279,0.72675,0.72555,0.72435,0.7232,0.72085,0.71965,0.7185],
                       "tickCount": 500,
                       "format": ".5f", "grid": true, "tickSize": 3, "labelPadding": 2, "domain": true, "labelFlush": false, "labelOverlap": false}},
        "y2": {"field": "h"}
      }
    },
    {
      "data": {"name": "bars"},
      "mark": {"type": "bar", "color": "#4169e1", "width": 2},
      "encoding": {
        "x": {"field": "i", "type": "quantitative"},
        "y": {"field": "o", "type": "quantitative"},
        "y2": {"field": "c"}
      }
    },
    {
      "data": {"name": "jaw"},
      "mark": {"type": "line", "color": "#2f2ff0", "strokeWidth": 1},
      "encoding": {"x": {"field": "b", "type": "quantitative"}, "y": {"field": "p", "type": "quantitative"}}
    },
    {
      "data": {"name": "teeth"},
      "mark": {"type": "line", "color": "#f02828", "strokeWidth": 1},
      "encoding": {"x": {"field": "b", "type": "quantitative"}, "y": {"field": "p", "type": "quantitative"}}
    },
    {
      "data": {"name": "lips"},
      "mark": {"type": "line", "color": "#1ee01e", "strokeWidth": 1},
      "encoding": {"x": {"field": "b", "type": "quantitative"}, "y": {"field": "p", "type": "quantitative"}}
    },
    {
      "data": {"name": "lv"},
      "mark": {"type": "rule", "color": "#f23a3a", "strokeWidth": 1},
      "encoding": {"y": {"field": "p", "type": "quantitative"}}
    },
    {
      "data": {"name": "bid"},
      "mark": {"type": "rule", "color": "#b4b4b4", "strokeWidth": 1},
      "encoding": {"y": {"field": "p", "type": "quantitative"}}
    },
    {
      "data": {"name": "lv"},
      "mark": {"type": "rect", "color": "#ff1414", "height": 8},
      "encoding": {"x": {"datum": 421.2}, "x2": {"datum": 433.6}, "y": {"field": "p", "type": "quantitative"}}
    },
    {
      "data": {"name": "lv"},
      "mark": {"type": "text", "color": "#ffffff", "align": "left", "baseline": "middle", "fontSize": 6.3, "font": "Liberation Sans"},
      "encoding": {"x": {"datum": 422.6}, "y": {"field": "p", "type": "quantitative"}, "text": {"field": "p", "type": "quantitative", "format": ".5f"}}
    },
    {
      "data": {"name": "bid"},
      "mark": {"type": "rect", "color": "#000000", "height": 8},
      "encoding": {"x": {"datum": 421.2}, "x2": {"datum": 433.6}, "y": {"field": "p", "type": "quantitative"}}
    },
    {
      "data": {"name": "bid"},
      "mark": {"type": "text", "color": "#ffffff", "align": "left", "baseline": "middle", "fontSize": 6.3, "font": "Liberation Sans"},
      "encoding": {"x": {"datum": 422.6}, "y": {"field": "p", "type": "quantitative"}, "text": {"field": "p", "type": "quantitative", "format": ".5f"}}
    },
    {
      "data": {"values": [{}]},
      "mark": {"type": "text", "text": "▼  AUDUSD,H1  0.72216 0.72225 0.72177 0.72208", "align": "left", "baseline": "middle", "fontSize": 6.3, "font": "Liberation Sans", "color": "#000000"},
      "encoding": {"x": {"datum": 0.5}, "y": {"datum": 0.74219}}
    }
  ]
},
{
  "width": 1167,
  "height": 34,
  "layer": [
    {
      "data": {"name": "bars"},
      "mark": {"type": "bar", "color": "#bdbdbd", "width": 1},
      "encoding": {
        "x": {"field": "i", "type": "quantitative", "title": null,
              "scale": {"domain": [-1.38, 421.1], "nice": false, "zero": false},
              "axis": {"values": [0,8,16,24,32,40,48,56,64,72,80,88,96,104,112,120,128,136,144,152,160,168,176,184,192,200,208,216,224,232,240,248,256,264,272,280,288,296,304,312,320,328,336,344,352,360,368,376,384,392,400,408,416],
                       "tickCount": 500,
                       "labelExpr": "(datum.value % 16 == 0 && datum.value <= 352) ? ['1 Sep 2020','2 Sep 00:00','2 Sep 16:00','3 Sep 08:00','4 Sep 00:00','4 Sep 16:00','7 Sep 08:00','8 Sep 00:00','8 Sep 16:00','9 Sep 08:00','10 Sep 00:00','10 Sep 16:00','11 Sep 08:00','14 Sep 00:00','14 Sep 16:00','15 Sep 08:00','16 Sep 00:00','16 Sep 16:00','17 Sep 08:00','18 Sep 00:00','18 Sep 16:00','21 Sep 08:00','22 Sep 00:00'][datum.value / 16] : ''",
                       "labelAlign": "left", "labelBaseline": "top", "labelPadding": 1, "labelOverlap": false, "labelFlush": false, "labelBound": false,
                       "tickSize": 3,
                       "tickOpacity": {"condition": {"test": "datum.value % 16 == 0 && datum.value <= 352", "value": 1}, "value": 0},
                       "grid": true,
                       "gridColor": {"condition": {"test": "(datum.value - 16) % 24 == 0", "value": "#3c3c3c"}, "value": "#c8c8c8"},
                       "domain": true}},
        "y": {"field": "m", "type": "quantitative", "title": null,
              "scale": {"domain": [-0.002777, 0.001546], "nice": false, "zero": false},
              "axis": {"orient": "right", "values": [0.001546, 0, -0.002777],
                       "tickCount": 500,
                       "labelExpr": "datum.value > 0.001 ? '0.001546' : (datum.value < -0.002 ? '-0.002777' : '0.00')",
                       "labelFlush": true, "grid": true, "tickSize": 3, "labelPadding": 0, "domain": true, "labelOverlap": false}},
        "y2": {"datum": 0}
      }
    },
    {
      "data": {"name": "sig"},
      "mark": {"type": "line", "color": "#ff0000", "strokeWidth": 1, "strokeDash": [2, 2]},
      "encoding": {"x": {"field": "b", "type": "quantitative"}, "y": {"field": "v", "type": "quantitative"}}
    },
    {
      "data": {"values": [{}]},
      "mark": {"type": "text", "text": "MACD(12,26,9) -0.001643 -0.002016", "align": "left", "baseline": "middle", "fontSize": 6.3, "font": "Liberation Sans", "color": "#000000"},
      "encoding": {"x": {"datum": 0.9}, "y": {"datum": 0.00091}}
    }
  ]
}
]
}
